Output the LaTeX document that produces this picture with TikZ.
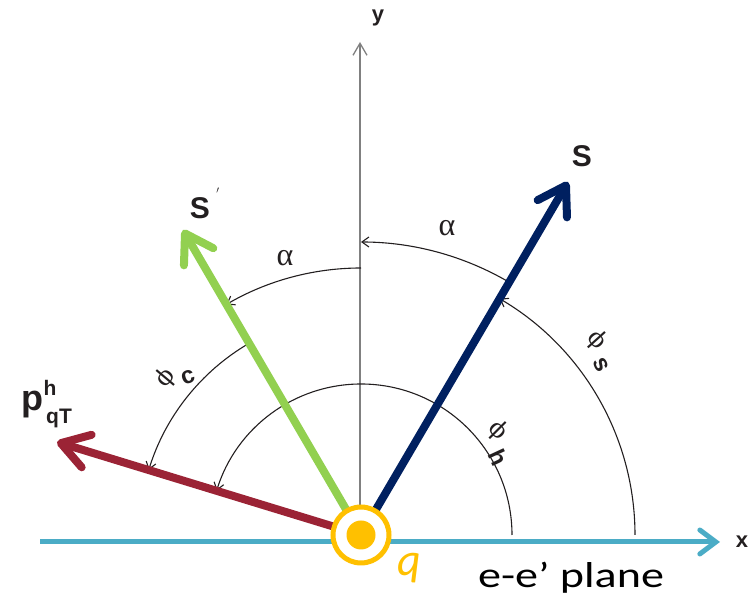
\documentclass[tikz,border=0pt]{standalone}
\usepackage{fontspec}
\setmainfont{Liberation Sans}
\newfontfamily\calib{Carlito}
\newfontfamily\greekser{Liberation Serif}
\newfontfamily\phifont{DejaVu Serif}
\usetikzlibrary{arrows.meta}
\definecolor{axisblue}{HTML}{4BACC6}
\definecolor{vred}{HTML}{9B2335}
\definecolor{vgreen}{HTML}{92D050}
\definecolor{vnavy}{HTML}{002060}
\definecolor{qorange}{HTML}{FFC000}
\definecolor{axgray}{HTML}{808080}
\definecolor{ink}{HTML}{231F20}
\begin{document}
\begin{tikzpicture}[x=1pt,y=1pt,
  vec/.style={line width=8pt, line cap=round,
    -{Straight Barb[length=27pt,width=34pt,line cap=round,line join=round]}},
  thinarc/.style={line width=1.1pt, draw=ink, -{Straight Barb[length=7pt,width=10pt]}},
  axlbl/.style={font=\fontsize{22}{22}\selectfont\bfseries, text=ink, inner sep=0pt},
  veclbl/.style={font=\fontsize{30}{30}\selectfont\bfseries, text=ink, inner sep=0pt},
  alphalbl/.style={font=\greekser\fontsize{32}{32}\selectfont, text=ink, inner sep=0pt},
  philbl/.style={font=\phifont\fontsize{24}{24}\selectfont, text=ink, inner sep=0pt},
  sublbl/.style={font=\fontsize{24}{24}\selectfont\bfseries, text=ink, inner sep=0pt}]
\useasboundingbox (0,0) rectangle (756,599);
\coordinate (O) at (361,64);
% axes
\coordinate (xs) at (40,57);
\coordinate (xe) at (720,57);
\draw[axisblue, line width=5pt, -{Straight Barb[length=16pt,width=24pt,line cap=round]}] (xs) -- (xe);
\coordinate (yb) at (360,64);
\coordinate (ye) at (360,557);
\draw[axgray, line width=1.3pt, -{Straight Barb[length=12pt,width=14pt]}] (yb) -- (ye);
\node[axlbl] (xl) at (742,57) {x};
\node[axlbl] (yl) at (378,581) {y};
% arcs
\draw[thinarc] ([shift={(0:151)}]O) arc[start angle=0, end angle=163, radius=151];
\draw[thinarc] ([shift={(0:274)}]O) arc[start angle=0, end angle=59.6, radius=274];
\draw[thinarc] ([shift={(59.6:293)}]O) arc[start angle=59.6, end angle=90, radius=293];
\draw[thinarc] ([shift={(90:267)}]O) arc[start angle=90, end angle=120.3, radius=267];
\draw[thinarc] ([shift={(120.3:222)}]O) arc[start angle=120.3, end angle=163, radius=222];
% vectors
\coordinate (pt) at (57,157);
\coordinate (sp) at (183,369);
\coordinate (s) at (568,417);
\draw[vec, vred] (O) -- (pt);
\draw[vec, vgreen] (O) -- (sp);
\draw[vec, vnavy] (O) -- (s);
% circle
\node[circle, draw=qorange, fill=white, line width=5pt, minimum size=56pt, inner sep=0pt] (qc) at (O) {};
\node[circle, fill=qorange, minimum size=29pt, inner sep=0pt] (qd) at (O) {};
% labels
\node[veclbl] (sl) at (582,443) {S};
\node[veclbl] (spl) at (200,391) {S};
\node[font=\fontsize{14}{14}\selectfont, text=ink, inner sep=0pt] (spp) at (218,406) {$'$};
\node[font=\fontsize{36}{36}\selectfont\bfseries, text=ink, inner sep=0pt] (pl) at (32,194) {p};
\node[font=\fontsize{21}{21}\selectfont\bfseries, text=ink, inner sep=0pt] (plh) at (50,211) {h};
\node[font=\fontsize{21}{21}\selectfont\bfseries, text=ink, inner sep=0pt] (plq) at (59,181) {qT};
\node[alphalbl] (a1) at (447,371) {α};
\node[alphalbl] (a2) at (285,341) {α};
\node[philbl, rotate=50] (phc) at (166,221) {ϕ};
\node[sublbl, rotate=20] (phcs) at (188,222) {c};
\node[philbl, rotate=-45] (phh) at (498,168) {ϕ};
\node[sublbl, rotate=-65] (phhs) at (498,142) {h};
\node[philbl, rotate=-48] (phs) at (597,259) {ϕ};
\node[sublbl, rotate=-65] (phss) at (601,234) {s};
\node[font=\calib\itshape\fontsize{46}{46}\selectfont, text=qorange, inner sep=0pt] (ql) at (409,31) {q};
\node[font=\calib\fontsize{36}{36}\selectfont, text=black, inner sep=0pt, anchor=base, xscale=1.28] (pl2) at (571,11) {e-e’ plane};
\end{tikzpicture}
\end{document}
